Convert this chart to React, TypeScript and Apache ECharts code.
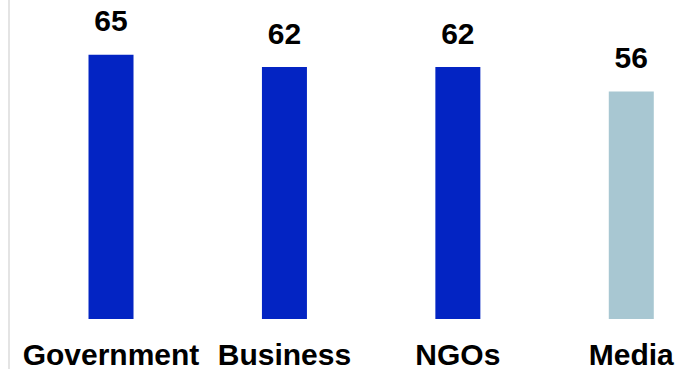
import React, { useEffect, useRef } from "react";
import * as echarts from "echarts";

const categories = ["Government", "Business", "NGOs", "Media"];
const values = [65, 62, 62, 56];
const barColors = ["#0324C3", "#0324C3", "#0324C3", "#A8C7D2"];

export default function App() {
  const ref = useRef<HTMLDivElement>(null);
  useEffect(() => {
    if (!ref.current) return;
    const chart = echarts.init(ref.current, null, { renderer: "svg" });
    chart.setOption({
      animation: false,
      backgroundColor: "#ffffff",
      grid: { left: 24.3, right: 0, top: 2, bottom: 49 },
      xAxis: {
        type: "category",
        data: categories,
        axisLine: { show: false },
        axisTick: { show: false },
        axisLabel: {
          interval: 0,
          margin: 20,
          fontSize: 30,
          fontWeight: "bold",
          color: "#000000",
          fontFamily: "Liberation Sans, Arial, sans-serif",
        },
      },
      yAxis: {
        type: "value",
        min: 0,
        max: 78,
        show: false,
        splitLine: { show: false },
      },
      graphic: [
        {
          type: "rect",
          shape: { x: 8, y: 0, width: 2, height: 369 },
          style: { fill: "#e4e4e4" },
          silent: true,
        },
      ],
      series: [
        {
          type: "bar",
          barWidth: 45,
          data: values.map((v, i) => ({ value: v, itemStyle: { color: barColors[i] } })),
          label: {
            show: true,
            position: "top",
            distance: 19,
            fontSize: 30,
            fontWeight: "bold",
            color: "#000000",
            fontFamily: "Liberation Sans, Arial, sans-serif",
          },
        },
      ],
    });
    return () => chart.dispose();
  }, []);
  return (
    <div style={{ position: "fixed", left: 0, top: 0, width: 697, height: 369, overflow: "hidden", background: "#fff" }}>
      <div ref={ref} style={{ position: "absolute", left: 0, top: 0, width: 718, height: 369 }} />
    </div>
  );
}
